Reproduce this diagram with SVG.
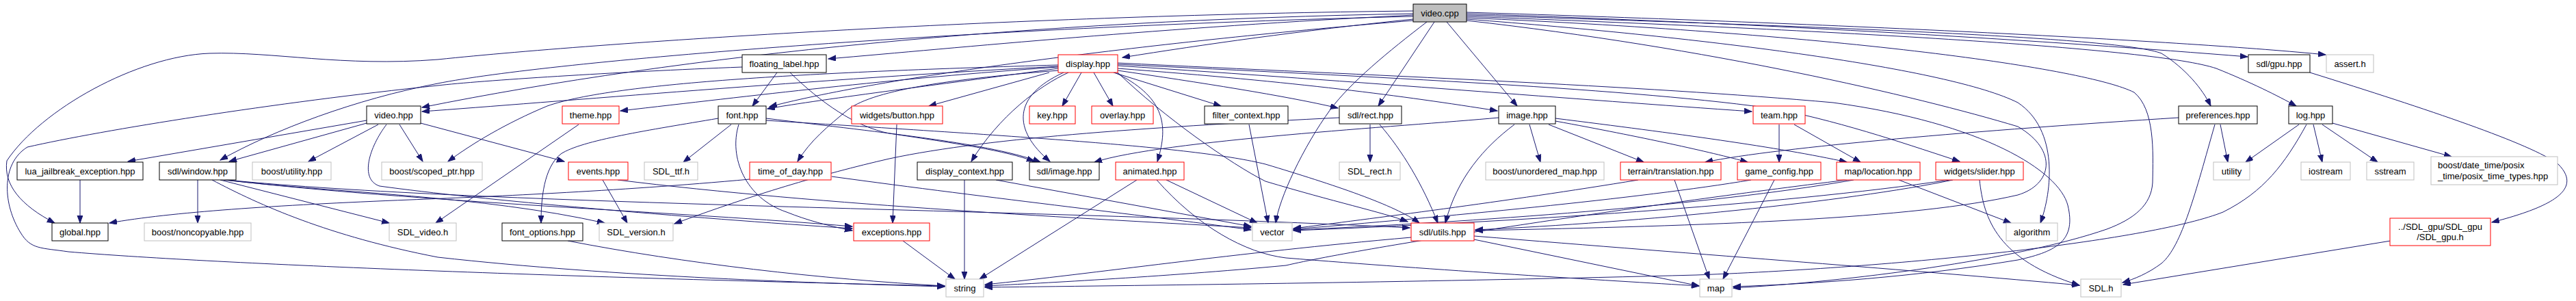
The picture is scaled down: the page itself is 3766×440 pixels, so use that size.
<svg xmlns="http://www.w3.org/2000/svg" width="3766" height="440" viewBox="0 0 3766 440">
<style>
rect{fill:#fff;stroke-width:1}
.k rect{stroke:#000}
.r rect{stroke:#f00}
.g rect{stroke:#bfbfbf}
.root rect{fill:#bfbfbf;stroke:#000}
text{font-family:"Liberation Sans",Arial,Helvetica,sans-serif;font-size:13px;fill:#000;text-anchor:middle}
.e path{fill:none;stroke:#191970;stroke-width:1;marker-end:url(#a)}
</style>
<defs>
<marker id="a" markerWidth="12" markerHeight="9" refX="11" refY="4" orient="auto" markerUnits="userSpaceOnUse"><path d="M0,0L11,4L0,8z" fill="#191970" stroke="#191970" stroke-width="1"/></marker>
</defs>
<rect x="0" y="0" width="3766" height="440" style="fill:#fff;stroke:none"/>
<g id="edges" class="e">
<path d="M2066,22 C1700,40 1400,70 1211,86"/>
<path d="M2066,28 C1900,45 1760,65 1641,84"/>
<path d="M2066,20 C1500,30 1000,80 617,157"/>
<path d="M2066,24 C1400,40 800,90 640,122 C520,145 400,190 322,234"/>
<path d="M2066,16 C1500,22 900,60 640,87 C500,98 400,75 306,78 C200,82 60,160 10,235 C5,270 30,300 80,326"/>
<path d="M2066,30 C1700,60 1300,110 1125,156"/>
<path d="M2097,32 L2015,155"/>
<path d="M2115,32 L2218,155"/>
<path d="M2086,32 C2030,75 1975,120 1945,160 C1905,215 1870,290 1865,326"/>
<path d="M2144,20 C2600,35 3000,60 3286,83"/>
<path d="M2144,18 C2700,35 3200,60 3400,80"/>
<path d="M2144,22 C2700,40 3100,55 3160,78 C3195,100 3220,130 3232,155"/>
<path d="M2144,24 C2700,45 3150,70 3240,100 C3290,120 3330,140 3357,155"/>
<path d="M2144,28 C2500,55 2850,100 2950,150 C3010,190 3000,280 2983,326"/>
<path d="M2144,30 C2500,70 2800,140 2950,185 C3010,220 3000,270 2950,285 C2800,320 2500,330 2157,337"/>
<path d="M2144,26 C2700,50 3050,100 3120,135 C3150,160 3148,220 3147,267 C3145,300 3120,320 3080,335 C2950,380 2700,412 2534,421"/>
<path d="M1136,106 L1100,155"/>
<path d="M1155,106 C1200,150 1250,185 1300,195 C1400,210 1470,220 1512,236"/>
<path d="M1085,98 C900,105 700,118 640,125 C400,150 150,190 40,215 C0,240 5,300 30,340 C45,365 60,362 100,368 C300,385 800,405 1381,418"/>
<path d="M1547,97 C1200,115 800,150 617,163"/>
<path d="M1547,100 C1400,120 1200,145 1122,159"/>
<path d="M1547,98 C1300,115 1100,140 907,162"/>
<path d="M1534,106 L1358,155"/>
<path d="M1581,106 L1553,155"/>
<path d="M1599,106 L1627,155"/>
<path d="M1628,106 L1785,155"/>
<path d="M1562,106 C1520,125 1460,170 1420,236"/>
<path d="M1555,106 C1480,140 1480,190 1535,236"/>
<path d="M1630,106 C1700,140 1710,180 1692,236"/>
<path d="M1547,103 C1400,115 1280,130 1240,160 C1210,185 1185,205 1166,236"/>
<path d="M1634,103 C1750,120 1880,140 1956,158"/>
<path d="M1634,100 C1900,120 2050,140 2189,162"/>
<path d="M1634,96 C2000,120 2300,145 2561,163"/>
<path d="M1634,94 C2000,112 2400,130 2600,160 C2700,180 2800,215 2865,236"/>
<path d="M1634,92 C2000,110 2400,125 2680,150 C2900,180 3010,250 3023,300 C3035,350 3010,367 2950,380 C2800,405 2650,415 2534,419"/>
<path d="M1547,95 C1200,105 900,120 800,155 C740,180 690,210 655,236"/>
<path d="M1634,106 C1700,170 1800,240 1850,265 C1950,295 2020,310 2058,324"/>
<path d="M536,176 L187,236"/>
<path d="M536,180 L335,236"/>
<path d="M553,182 L451,236"/>
<path d="M584,182 L618,236"/>
<path d="M615,180 L825,236"/>
<path d="M565,182 C540,215 525,262 555,272 C700,292 1000,318 1246,334"/>
<path d="M117,263 L117,326"/>
<path d="M289,263 L289,326"/>
<path d="M322,263 L569,326"/>
<path d="M310,263 C380,300 480,345 640,376 C900,405 1200,414 1381,419"/>
<path d="M327,263 C500,283 700,285 884,326"/>
<path d="M330,263 C600,295 1000,310 1246,331"/>
<path d="M332,263 C700,300 1500,305 2061,333"/>
<path d="M846,182 L637,326"/>
<path d="M1069,182 L999,237"/>
<path d="M1050,173 C950,190 850,205 820,225 C795,245 791,290 791,326"/>
<path d="M1080,182 C1065,230 1090,290 1150,310 C1180,322 1210,330 1246,337"/>
<path d="M1120,173 C1300,195 1450,210 1521,237"/>
<path d="M1120,176 C1500,200 1750,215 1850,240 C1950,270 2040,300 2075,326"/>
<path d="M1311,182 L1305,326"/>
<path d="M881,263 L917,326"/>
<path d="M903,263 C1200,300 1600,320 1829,333"/>
<path d="M1096,262 C900,280 700,288 600,292 C400,300 250,310 160,326"/>
<path d="M1216,258 C1450,290 1700,318 1829,336"/>
<path d="M1410,263 L1410,408"/>
<path d="M1456,263 L1829,331"/>
<path d="M1662,263 L1432,408"/>
<path d="M1705,263 L1838,326"/>
<path d="M1691,263 C1750,330 1820,370 1880,377 C2100,395 2350,410 2484,418"/>
<path d="M1320,352 L1396,408"/>
<path d="M1826,182 L1854,326"/>
<path d="M2003,182 L2003,237"/>
<path d="M2017,182 C2050,220 2080,270 2102,326"/>
<path d="M1958,172 C1700,185 1450,200 1300,232 C1200,255 1100,285 986,327"/>
<path d="M2214,182 C2170,215 2130,260 2113,326"/>
<path d="M2236,182 L2252,237"/>
<path d="M2264,182 L2403,237"/>
<path d="M2274,177 C2400,200 2500,222 2555,237"/>
<path d="M2274,173 C2450,195 2600,215 2700,237"/>
<path d="M2191,172 C2050,185 1700,205 1600,237"/>
<path d="M2601,182 L2601,237"/>
<path d="M2623,182 L2720,237"/>
<path d="M3185,172 C2900,190 2600,215 2493,237"/>
<path d="M3246,182 L3257,237"/>
<path d="M3238,182 C3210,280 3190,360 3160,385 C3140,400 3120,408 3103,413"/>
<path d="M3361,182 L3283,237"/>
<path d="M3382,182 L3395,237"/>
<path d="M3395,182 L3476,237"/>
<path d="M3410,180 L3584,229"/>
<path d="M3372,182 C3340,240 3310,280 3250,310 C3150,350 2800,390 2480,402 C2100,412 1700,417 1440,420"/>
<path d="M3377,106 C3550,160 3700,210 3740,240 C3780,280 3720,305 3643,325"/>
<path d="M3495,352 L3104,416"/>
<path d="M2395,263 C2200,295 2000,320 1891,334"/>
<path d="M2448,263 L2499,408"/>
<path d="M2594,263 L2519,408"/>
<path d="M2560,263 C2400,290 2100,318 1891,335"/>
<path d="M2776,263 L2940,326"/>
<path d="M2710,263 C2500,300 2150,325 1891,336"/>
<path d="M2700,263 C2400,300 2000,360 1880,388 C1700,405 1500,415 1440,418"/>
<path d="M2855,263 C2700,295 2400,325 2157,336"/>
<path d="M2894,263 C2900,320 2920,380 3040,417"/>
<path d="M2850,263 C2600,300 2200,325 1891,337"/>
<path d="M2063,347 C1800,370 1600,400 1440,416"/>
<path d="M2155,350 L2484,418"/>
<path d="M2155,345 C2500,373 2800,395 3040,417"/>
<path d="M830,352 C1000,385 1200,408 1381,418"/>
</g>
<g id="video_cpp" class="root"><rect x="2066" y="6" width="78" height="26"/><text x="2105" y="23.5">video.cpp</text></g>
<g id="floating_label_hpp" class="k"><rect x="1085" y="80" width="123" height="26"/><text x="1146.5" y="97.5">floating_label.hpp</text></g>
<g id="display_hpp" class="r"><rect x="1547" y="80" width="87" height="26"/><text x="1590.5" y="97.5">display.hpp</text></g>
<g id="sdl_gpu_hpp" class="k"><rect x="3287" y="80" width="90" height="26"/><text x="3332" y="97.5">sdl/gpu.hpp</text></g>
<g id="assert_h" class="g"><rect x="3401" y="80" width="69" height="26"/><text x="3435.5" y="97.5">assert.h</text></g>
<g id="video_hpp" class="k"><rect x="536" y="155" width="79" height="26"/><text x="575.5" y="172.5">video.hpp</text></g>
<g id="theme_hpp" class="r"><rect x="822" y="155" width="83" height="26"/><text x="863.5" y="172.5">theme.hpp</text></g>
<g id="font_hpp" class="k"><rect x="1050" y="155" width="70" height="26"/><text x="1085" y="172.5">font.hpp</text></g>
<g id="widgets_button_hpp" class="r"><rect x="1245" y="155" width="133" height="26"/><text x="1311.5" y="172.5">widgets/button.hpp</text></g>
<g id="key_hpp" class="r"><rect x="1505" y="155" width="67" height="26"/><text x="1538.5" y="172.5">key.hpp</text></g>
<g id="overlay_hpp" class="r"><rect x="1596" y="155" width="90" height="26"/><text x="1641" y="172.5">overlay.hpp</text></g>
<g id="filter_context_hpp" class="k"><rect x="1761" y="155" width="122" height="26"/><text x="1822" y="172.5">filter_context.hpp</text></g>
<g id="sdl_rect_hpp" class="k"><rect x="1958" y="155" width="91" height="26"/><text x="2003.5" y="172.5">sdl/rect.hpp</text></g>
<g id="image_hpp" class="k"><rect x="2191" y="155" width="83" height="26"/><text x="2232.5" y="172.5">image.hpp</text></g>
<g id="team_hpp" class="r"><rect x="2563" y="155" width="76" height="26"/><text x="2601" y="172.5">team.hpp</text></g>
<g id="preferences_hpp" class="k"><rect x="3185" y="155" width="115" height="26"/><text x="3242.5" y="172.5">preferences.hpp</text></g>
<g id="log_hpp" class="k"><rect x="3346" y="155" width="64" height="26"/><text x="3378" y="172.5">log.hpp</text></g>
<g id="lua_jailbreak_exception_hpp" class="k"><rect x="25" y="237" width="184" height="26"/><text x="117" y="254.5">lua_jailbreak_exception.hpp</text></g>
<g id="sdl_window_hpp" class="k"><rect x="233" y="237" width="112" height="26"/><text x="289" y="254.5">sdl/window.hpp</text></g>
<g id="boost_utility_hpp" class="g"><rect x="369" y="237" width="115" height="26"/><text x="426.5" y="254.5">boost/utility.hpp</text></g>
<g id="boost_scoped_ptr_hpp" class="g"><rect x="558" y="237" width="147" height="26"/><text x="631.5" y="254.5">boost/scoped_ptr.hpp</text></g>
<g id="events_hpp" class="r"><rect x="831" y="237" width="87" height="26"/><text x="874.5" y="254.5">events.hpp</text></g>
<g id="SDL_ttf_h" class="g"><rect x="942" y="237" width="78" height="26"/><text x="981" y="254.5">SDL_ttf.h</text></g>
<g id="time_of_day_hpp" class="r"><rect x="1096" y="237" width="119" height="26"/><text x="1155.5" y="254.5">time_of_day.hpp</text></g>
<g id="display_context_hpp" class="k"><rect x="1341" y="237" width="139" height="26"/><text x="1410.5" y="254.5">display_context.hpp</text></g>
<g id="sdl_image_hpp" class="k"><rect x="1505" y="237" width="102" height="26"/><text x="1556" y="254.5">sdl/image.hpp</text></g>
<g id="animated_hpp" class="r"><rect x="1631" y="237" width="100" height="26"/><text x="1681" y="254.5">animated.hpp</text></g>
<g id="SDL_rect_h" class="g"><rect x="1958" y="237" width="89" height="26"/><text x="2002.5" y="254.5">SDL_rect.h</text></g>
<g id="boost_unordered_map_hpp" class="g"><rect x="2172" y="237" width="173" height="26"/><text x="2258.5" y="254.5">boost/unordered_map.hpp</text></g>
<g id="terrain_translation_hpp" class="r"><rect x="2369" y="237" width="147" height="26"/><text x="2442.5" y="254.5">terrain/translation.hpp</text></g>
<g id="game_config_hpp" class="r"><rect x="2540" y="237" width="122" height="26"/><text x="2601" y="254.5">game_config.hpp</text></g>
<g id="map_location_hpp" class="r"><rect x="2685" y="237" width="122" height="26"/><text x="2746" y="254.5">map/location.hpp</text></g>
<g id="widgets_slider_hpp" class="r"><rect x="2830" y="237" width="128" height="26"/><text x="2894" y="254.5">widgets/slider.hpp</text></g>
<g id="utility" class="g"><rect x="3236" y="237" width="53" height="26"/><text x="3262.5" y="254.5">utility</text></g>
<g id="iostream" class="g"><rect x="3364" y="237" width="72" height="26"/><text x="3400" y="254.5">iostream</text></g>
<g id="sstream" class="g"><rect x="3460" y="237" width="69" height="26"/><text x="3494.5" y="254.5">sstream</text></g>
<g id="posix_time_types_hpp" class="g"><rect x="3554" y="229" width="185" height="41"/><text x="3564" y="245.5" style="text-anchor:start">boost/date_time/posix</text><text x="3564" y="261.5" style="text-anchor:start">_time/posix_time_types.hpp</text></g>
<g id="global_hpp" class="k"><rect x="76" y="326" width="82" height="26"/><text x="117" y="343.5">global.hpp</text></g>
<g id="boost_noncopyable_hpp" class="g"><rect x="211" y="326" width="156" height="26"/><text x="289" y="343.5">boost/noncopyable.hpp</text></g>
<g id="SDL_video_h" class="g"><rect x="569" y="326" width="98" height="26"/><text x="618" y="343.5">SDL_video.h</text></g>
<g id="font_options_hpp" class="k"><rect x="734" y="326" width="118" height="26"/><text x="793" y="343.5">font_options.hpp</text></g>
<g id="SDL_version_h" class="g"><rect x="876" y="326" width="108" height="26"/><text x="930" y="343.5">SDL_version.h</text></g>
<g id="exceptions_hpp" class="r"><rect x="1248" y="326" width="111" height="26"/><text x="1303.5" y="343.5">exceptions.hpp</text></g>
<g id="vector" class="g"><rect x="1831" y="326" width="58" height="26"/><text x="1860" y="343.5">vector</text></g>
<g id="sdl_utils_hpp" class="r"><rect x="2063" y="326" width="92" height="26"/><text x="2109" y="343.5">sdl/utils.hpp</text></g>
<g id="algorithm" class="g"><rect x="2933" y="326" width="75" height="26"/><text x="2970.5" y="343.5">algorithm</text></g>
<g id="SDL_gpu_h" class="r"><rect x="3494" y="319" width="147" height="40"/><text x="3567.5" y="335.5">../SDL_gpu/SDL_gpu</text><text x="3567.5" y="350.5">/SDL_gpu.h</text></g>
<g id="string" class="g"><rect x="1383" y="408" width="55" height="26"/><text x="1410.5" y="425.5">string</text></g>
<g id="map" class="g"><rect x="2485" y="408" width="47" height="26"/><text x="2508.5" y="425.5">map</text></g>
<g id="SDL_h" class="g"><rect x="3042" y="408" width="59" height="26"/><text x="3071.5" y="425.5">SDL.h</text></g>
</svg>
